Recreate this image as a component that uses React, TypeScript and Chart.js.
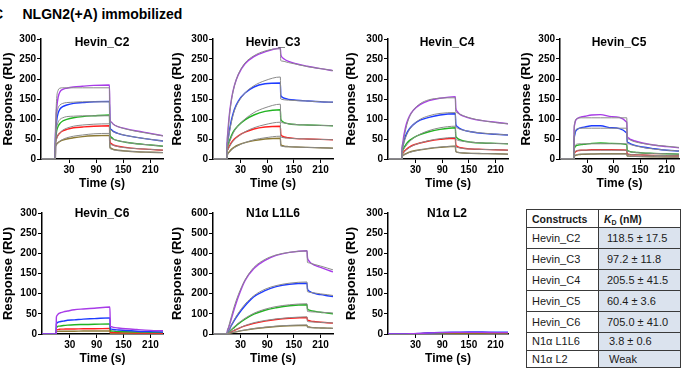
import React, { useEffect, useRef } from 'react';
import { Chart, registerables } from 'chart.js';

Chart.register(...registerables);

const FONT = "'Liberation Sans', Arial, Helvetica, sans-serif";

// ---------- tick labels ----------
const xTickValues = [30, 90, 150, 210];
const xMin = -32;
const xMax = 238;

// ---------- time grids (s) ----------
const t120 = [-32, -0.3, 0, 1, 3, 6, 10, 16, 25, 40, 60, 85, 119.5, 120.5, 123, 128, 138, 155, 180, 210, 238];
const t180 = [-32, -0.3, 0, 3, 6, 10, 16, 25, 40, 60, 85, 110, 140, 179.5, 180.5, 183, 188, 198, 210, 225, 238];
const tL2 = [-32, 0, 20, 40, 60, 90, 120, 150, 180, 210, 238];

// ---------- Hevin_C2 ----------
const c2Purple = [0, 0, 60, 95, 130, 155, 168, 174, 177, 180, 182, 184, 185, 100, 93, 87, 81, 76, 70, 64, 58];
const c2Blue = [0, 0, 50, 72, 98, 115, 125, 131, 135, 139, 141, 143, 144, 80, 74, 69, 64, 59, 54, 49, 45];
const c2Green = [0, 0, 45, 58, 72, 82, 89, 95, 99, 103, 106, 108, 110, 60, 55, 50, 46, 42, 38, 35, 32];
const c2Red = [0, 0, 38, 46, 54, 60, 65, 70, 74, 78, 80, 82, 83, 44, 39, 35, 32, 29, 26, 24, 22];
const c2Olive = [0, 0, 30, 34, 38, 41, 44, 47, 50, 53, 56, 58, 59, 30, 27, 24, 22, 20, 18, 17, 16];
const c2FitPurple = [0, 0, 60, 110, 155, 172, 177, 178, 178, 178, 178, 178, 178, 96, 92, 87, 81, 75, 69, 63, 58];
const c2FitBlue = [0, 0, 50, 80, 112, 128, 135, 139, 141, 142, 143, 143, 143, 76, 72, 68, 64, 59, 54, 49, 45];
const c2FitGreen = [0, 0, 45, 62, 80, 92, 99, 103, 106, 107, 108, 108, 108, 55, 52, 49, 46, 42, 38, 35, 32];
const c2FitRed = [0, 0, 38, 44, 52, 60, 66, 72, 77, 82, 85, 87, 88, 38, 36, 34, 31, 28, 26, 24, 22];
const c2FitOlive = [0, 0, 30, 33, 37, 41, 45, 49, 53, 57, 60, 63, 64, 27, 25, 23, 21, 20, 18, 17, 16];

// ---------- Hevin_C3 ----------
const c3Purple = [0, 0, 40, 62, 90, 122, 153, 183, 211, 238, 256, 268, 277, 262, 255, 250, 244, 238, 232, 226, 221];
const c3Blue = [0, 0, 35, 43, 58, 78, 100, 124, 145, 165, 180, 188, 190, 160, 155, 152, 149, 147, 145, 143, 142];
const c3Green = [0, 0, 28, 32, 39, 49, 60, 72, 84, 98, 110, 119, 123, 100, 95, 91, 88, 86, 85, 84, 83];
const c3Red = [0, 0, 20, 23, 29, 35, 42, 50, 58, 67, 75, 80, 82, 62, 58, 55, 53, 51, 50, 49, 48];
const c3Olive = [0, 0, 10, 12, 16, 20, 25, 30, 35, 41, 46, 50, 52, 37, 34, 32, 31, 30, 29, 28, 27];
const c3FitPurple = [0, 0, 40, 58, 85, 118, 150, 182, 212, 240, 258, 270, 276, 246, 245, 244, 241, 237, 231, 226, 221];
const c3FitBlue = [0, 0, 35, 41, 54, 73, 95, 120, 142, 165, 183, 196, 205, 150, 149, 148, 147, 146, 145, 143, 142];
const c3FitGreen = [0, 0, 28, 30, 36, 45, 56, 70, 84, 100, 116, 128, 137, 92, 91, 90, 88, 86, 85, 84, 83];
const c3FitRed = [0, 0, 20, 22, 26, 32, 40, 48, 57, 68, 78, 86, 92, 55, 54, 53, 52, 51, 50, 49, 48];
const c3FitOlive = [0, 0, 10, 11, 14, 18, 23, 28, 34, 41, 48, 53, 57, 32, 31.5, 31, 30.5, 30, 29, 28, 27];

// ---------- Hevin_C4 ----------
const c4Purple = [0, 0, 30, 38, 54, 72, 90, 107, 122, 136, 146, 152, 156, 128, 120, 113, 107, 101, 96, 92, 88];
const c4Blue = [0, 0, 25, 31, 41, 53, 64, 75, 86, 97, 104, 110, 113, 88, 82, 77, 72, 68, 64, 62, 60];
const c4Green = [0, 0, 18, 21, 26, 32, 39, 46, 53, 61, 68, 74, 78, 58, 53, 49, 45, 42, 40, 39, 38];
const c4Red = [0, 0, 12, 14, 17, 21, 25, 30, 35, 40, 45, 49, 52, 36, 32, 29, 27, 25, 24, 23, 22];
const c4Olive = [0, 0, 7, 8, 10, 12, 14, 17, 20, 23, 26, 29, 32, 20, 17, 16, 15, 14, 13.5, 13, 12];
const c4FitPurple = [0, 0, 30, 35, 47, 64, 84, 104, 122, 138, 148, 152, 153, 118, 116, 113, 108, 102, 96, 91, 88];
const c4FitBlue = [0, 0, 25, 28, 36, 48, 60, 73, 86, 99, 108, 114, 116, 80, 78, 75, 72, 68, 65, 62, 60];
const c4FitGreen = [0, 0, 18, 20, 24, 29, 35, 43, 52, 62, 71, 78, 82, 50, 48, 46, 44, 42, 40, 39, 38];
const c4FitRed = [0, 0, 12, 13, 16, 19, 23, 28, 34, 40, 46, 51, 54, 30, 29, 28, 26, 25, 24, 23, 22];
const c4FitOlive = [0, 0, 7, 8, 9, 11, 13, 16, 19, 23, 27, 30, 32, 18, 17, 16, 15, 14, 13.5, 13, 12];

// ---------- Hevin_C5 ----------
const c5Purple = [0, 0, 70, 85, 95, 100, 103, 105, 107, 110, 111, 106, 92, 57, 53, 49, 45, 40, 35, 31, 28];
const c5Blue = [0, 0, 45, 58, 68, 73, 76, 78, 80, 83, 83, 78, 65, 44, 41, 38, 34, 30, 26, 22, 20];
const c5Green = [0, 0, 22, 28, 32, 34, 35, 36, 37, 39, 40, 39, 36, 22, 20, 18, 17, 15, 14, 13, 12];
const c5Red = [0, 0, 12, 15, 18, 20, 21, 22, 22, 23, 23, 23, 22, 13, 12, 11, 10.5, 10, 9, 8.5, 8];
const c5Olive = [0, 0, 5, 7, 9, 10, 11, 11.5, 12, 12.5, 13, 13, 13, 8, 7.5, 7, 6.5, 6, 5.5, 5, 5];
const c5FitPurple = [0, 0, 70, 88, 97, 101, 102, 103, 103, 103, 103, 103, 103, 52, 50, 47, 43, 39, 35, 32, 29];
const c5FitBlue = [0, 0, 45, 62, 71, 75, 76, 77, 77, 77, 77, 77, 77, 40, 38, 36, 33, 29, 25, 22, 20];
const c5FitGreen = [0, 0, 22, 30, 35, 37, 38, 38, 38, 38, 38, 38, 38, 20, 19, 18, 16.5, 15, 14, 13, 12];
const c5FitRed = [0, 0, 12, 16, 19, 21, 22, 22, 22, 22, 22, 22, 22, 12, 11.5, 11, 10.5, 10, 9, 8.5, 8];
const c5FitOlive = [0, 0, 5, 8, 10, 11, 12, 12.5, 12.5, 12.5, 12.5, 12.5, 12.5, 7, 7, 6.8, 6.5, 6, 5.5, 5, 5];

// ---------- Hevin_C6 ----------
const c6Purple = [0, 0, 40, 45, 48, 51, 53, 55, 57, 60, 62, 64, 67, 20, 18, 16.5, 15, 13, 11, 9, 8];
const c6Blue = [0, 0, 24, 27, 29, 30, 31, 32, 34, 35, 37, 38, 40, 13, 12, 11, 10, 8.5, 7, 6, 5];
const c6Green = [0, 0, 15, 17, 19, 19.5, 20, 21, 22, 23, 23.5, 24, 25, 8, 7.5, 7, 6, 5.5, 5, 4.5, 4];
const c6Red = [0, 0, 9, 10, 11, 11.5, 12, 12, 12.5, 12.5, 13, 13, 13.5, 4, 3.8, 3.5, 3, 2.8, 2.5, 2.2, 2];
const c6Olive = [0, 0, 5, 6, 6.5, 7, 7, 7, 7, 7, 7.5, 7.5, 7.5, 2, 1.9, 1.8, 1.6, 1.4, 1.2, 1.1, 1];

// ---------- N1α L1L6 ----------
const l16Purple = [0, 0, 10, 30, 50, 80, 125, 185, 265, 325, 365, 390, 405, 413, 380, 365, 352, 340, 330, 318, 308];
const l16Blue = [0, 0, 5, 15, 28, 45, 68, 98, 140, 185, 215, 235, 247, 252, 225, 215, 208, 200, 195, 190, 186];
const l16Green = [0, 0, 3, 8, 14, 22, 33, 50, 73, 98, 118, 130, 140, 145, 125, 120, 116, 112, 108, 104, 100];
const l16Red = [0, 0, 2, 5, 8, 12, 18, 27, 40, 53, 64, 72, 78, 82, 70, 67, 64, 61, 58, 56, 54];
const l16Olive = [0, 0, 1, 3, 4, 6, 9, 13, 19, 26, 32, 37, 41, 43, 37, 35, 33, 31, 30, 29, 28];
const l16FitPurple = [0, 0, 10, 35, 60, 92, 138, 195, 268, 330, 370, 392, 405, 412, 355, 353, 350, 344, 337, 327, 318];
const l16FitBlue = [0, 0, 5, 16, 30, 48, 72, 104, 148, 190, 222, 240, 252, 258, 210, 208, 206, 203, 199, 195, 191];
const l16FitGreen = [0, 0, 3, 9, 16, 25, 37, 54, 78, 103, 123, 136, 145, 150, 112, 111, 110, 109, 108, 106, 104];
const l16FitRed = [0, 0, 2, 5, 9, 13, 19, 28, 42, 56, 67, 75, 81, 85, 62, 61, 60, 59, 58, 56, 55];
const l16FitOlive = [0, 0, 1, 3, 4, 6, 9, 14, 20, 27, 34, 39, 43, 45, 32, 31.5, 31, 30.5, 30, 29, 28];

// ---------- N1α L2 ----------
const l2Purple = [0, 0, 0.5, 1.5, 2.5, 3.5, 4, 4, 4, 3.5, 3.5];
const l2Blue = [0, 0, 0.5, 1.5, 3, 4, 4.5, 5, 5, 4.5, 4.5];
const l2Green = [0, 0, 0.3, 1, 2, 2.5, 3, 3, 3, 3, 3];
const l2Red = [0, 0, 0.3, 0.8, 1.5, 2, 2, 2, 2, 2, 2];
const l2Olive = [0, 0, 0.2, 0.5, 1, 1.5, 1.5, 1.5, 1.5, 1.5, 1.5];

// ---------- table ----------
const tableConstructs = ['Hevin_C2', 'Hevin_C3', 'Hevin_C4', 'Hevin_C5', 'Hevin_C6', 'N1α L1L6', 'N1α L2'];
const tableKd = ['118.5 ± 17.5', '97.2 ± 11.8', '205.5 ± 41.5', '60.4 ± 3.6', '705.0 ± 41.0', '3.8 ± 0.6', 'Weak'];

// ---------- styles ----------
const SERIES_COLORS = ['#a83ce8', '#1e3cff', '#22b322', '#ff2020', '#8c7a34'];
const FIT_COLOR = '#8a8a8a';

interface PanelSpec {
  title: string;
  times: number[];
  curves: number[][];
  fits: number[][];
  yMax: number;
  yStep: number;
  left: number;
  top: number;
  width: number;
  height: number;
  yW: number;
  titleX: number;
  titleY: number;
}

const ROW1_TOP = 29;
const ROW2_TOP = 203;

const panels: PanelSpec[] = [
  { title: 'Hevin_C2', times: t120, curves: [c2Purple, c2Blue, c2Green, c2Red, c2Olive], fits: [c2FitPurple, c2FitBlue, c2FitGreen, c2FitRed, c2FitOlive], yMax: 300, yStep: 50, left: 1, top: ROW1_TOP, width: 166, height: 162, yW: 40, titleX: 102, titleY: 42 },
  { title: 'Hevin_C3', times: t120, curves: [c3Purple, c3Blue, c3Green, c3Red, c3Olive], fits: [c3FitPurple, c3FitBlue, c3FitGreen, c3FitRed, c3FitOlive], yMax: 300, yStep: 50, left: 170, top: ROW1_TOP, width: 167, height: 162, yW: 43, titleX: 273, titleY: 42 },
  { title: 'Hevin_C4', times: t120, curves: [c4Purple, c4Blue, c4Green, c4Red, c4Olive], fits: [c4FitPurple, c4FitBlue, c4FitGreen, c4FitRed, c4FitOlive], yMax: 300, yStep: 50, left: 344, top: ROW1_TOP, width: 168, height: 162, yW: 44, titleX: 447, titleY: 42 },
  { title: 'Hevin_C5', times: t120, curves: [c5Purple, c5Blue, c5Green, c5Red, c5Olive], fits: [c5FitPurple, c5FitBlue, c5FitGreen, c5FitRed, c5FitOlive], yMax: 300, yStep: 50, left: 519, top: ROW1_TOP, width: 164, height: 162, yW: 41, titleX: 619, titleY: 42 },
  { title: 'Hevin_C6', times: t120, curves: [c6Purple, c6Blue, c6Green, c6Red, c6Olive], fits: [], yMax: 300, yStep: 50, left: 1, top: ROW2_TOP, width: 166, height: 163, yW: 41, titleX: 102, titleY: 213 },
  { title: 'N1α L1L6', times: t180, curves: [l16Purple, l16Blue, l16Green, l16Red, l16Olive], fits: [l16FitPurple, l16FitBlue, l16FitGreen, l16FitRed, l16FitOlive], yMax: 600, yStep: 100, left: 170, top: ROW2_TOP, width: 167, height: 163, yW: 43, titleX: 273, titleY: 213 },
  { title: 'N1α L2', times: tL2, curves: [l2Purple, l2Blue, l2Green, l2Red, l2Olive], fits: [], yMax: 300, yStep: 50, left: 344, top: ROW2_TOP, width: 168, height: 163, yW: 44, titleX: 447, titleY: 213 },
];

function series(times: number[], values: number[]) {
  return times.map((t, i) => ({ x: t, y: values[i] }));
}

function Panel({ spec }: { spec: PanelSpec }) {
  const ref = useRef<HTMLCanvasElement>(null);
  useEffect(() => {
    const canvas = ref.current;
    if (!canvas) return;
    const datasets: any[] = [
      ...spec.fits.map((v) => ({
        data: series(spec.times, v),
        borderColor: FIT_COLOR,
        borderWidth: 1,
        showLine: true,
        pointRadius: 0,
        cubicInterpolationMode: 'monotone',
      })),
      ...spec.curves.map((v, i) => ({
        data: series(spec.times, v),
        borderColor: SERIES_COLORS[i],
        borderWidth: 1.4,
        showLine: true,
        pointRadius: 0,
        cubicInterpolationMode: 'monotone',
      })),
    ];
    const tickFont = { family: FONT, size: 10, weight: 'bold' as const };
    const chart = new Chart(canvas, {
      type: 'scatter',
      data: { datasets },
      options: {
        animation: false,
        responsive: false,
        maintainAspectRatio: false,
        events: [],
        layout: { padding: { left: 0, top: 10, right: 4, bottom: 0 } },
        plugins: { legend: { display: false }, tooltip: { enabled: false }, title: { display: false } },
        elements: { point: { radius: 0 } },
        scales: {
          x: {
            type: 'linear',
            min: xMin,
            max: xMax,
            afterBuildTicks: (s: any) => {
              s.ticks = xTickValues.map((v) => ({ value: v }));
            },
            afterFit: (s: any) => {
              s.height = 32;
            },
            grid: { display: true, drawOnChartArea: false, drawTicks: true, tickLength: 4, color: '#000', lineWidth: 1 },
            border: { display: true, color: '#000', width: 1.5 },
            ticks: { color: '#000', font: tickFont, padding: 1, maxRotation: 0, autoSkip: false },
            title: { display: true, text: 'Time (s)', color: '#000', font: { family: FONT, size: 12, weight: 'bold' }, padding: { top: 0, bottom: 0 } },
          },
          y: {
            type: 'linear',
            min: 0,
            max: spec.yMax,
            afterFit: (s: any) => {
              s.width = spec.yW;
            },
            grid: { display: true, drawOnChartArea: false, drawTicks: true, tickLength: 4, color: '#000', lineWidth: 1 },
            border: { display: true, color: '#000', width: 1.5 },
            ticks: { color: '#000', font: tickFont, padding: 1, stepSize: spec.yStep },
            title: { display: true, text: 'Response (RU)', color: '#000', font: { family: FONT, size: 13, weight: 'bold' }, padding: { top: 0, bottom: 0 } },
          },
        },
      } as any,
    });
    return () => chart.destroy();
  }, [spec]);
  return (
    <canvas
      ref={ref}
      width={spec.width}
      height={spec.height}
      style={{ position: 'absolute', left: spec.left, top: spec.top, width: spec.width, height: spec.height }}
    />
  );
}

const rowHeights = [18, 21, 21, 21, 21, 21, 17.5, 17.5];

export default function App() {
  useEffect(() => {
    document.body.style.margin = '0';
  }, []);
  const cellBorder = '1px solid #3a3a3a';
  return (
    <div style={{ position: 'absolute', left: 0, top: 0, width: 689, height: 372, overflow: 'hidden', background: '#fff', fontFamily: FONT }}>
      <div style={{ position: 'absolute', left: -7, top: 6, fontSize: 14, lineHeight: '16px', fontWeight: 'bold', color: '#000' }}>C</div>
      <div style={{ position: 'absolute', left: 22.5, top: 6, fontSize: 14, lineHeight: '16px', fontWeight: 'bold', color: '#000', whiteSpace: 'nowrap' }}>
        NLGN2(+A) immobilized
      </div>
      {panels.map((p) => (
        <Panel key={p.title} spec={p} />
      ))}
      {panels.map((p) => (
        <div
          key={'t' + p.title}
          style={{
            position: 'absolute',
            left: p.titleX,
            top: p.titleY - 7,
            transform: 'translateX(-50%)',
            fontSize: 12,
            lineHeight: '14px',
            fontWeight: 'bold',
            color: '#000',
            whiteSpace: 'nowrap',
            zIndex: 2,
          }}
        >
          {p.title}
        </div>
      ))}
      <table
        style={{
          position: 'absolute',
          left: 526,
          top: 209,
          width: 154,
          borderCollapse: 'collapse',
          border: cellBorder,
          fontSize: 11,
          color: '#1a1a1a',
          tableLayout: 'fixed',
        }}
      >
        <colgroup>
          <col style={{ width: 72 }} />
          <col style={{ width: 82 }} />
        </colgroup>
        <tbody>
          <tr style={{ height: rowHeights[0] }}>
            <td style={{ border: cellBorder, padding: '0 0 0 5px', fontWeight: 'bold', fontSize: 10.5, background: '#fff' }}>Constructs</td>
            <td style={{ border: cellBorder, padding: '0 0 0 5px', fontWeight: 'bold', fontSize: 10.5, background: '#fff', whiteSpace: 'nowrap' }}>
              <i>K</i>
              <sub style={{ fontSize: 7, verticalAlign: '-2px', lineHeight: 0 }}>D</sub> (nM)
            </td>
          </tr>
          {tableConstructs.map((name, i) => (
            <tr key={name} style={{ height: rowHeights[i + 1] }}>
              <td style={{ border: cellBorder, padding: '0 0 0 5px', whiteSpace: 'nowrap', background: '#fff' }}>{name}</td>
              <td style={{ border: cellBorder, padding: i >= 5 ? '0 0 0 10px' : '0 0 0 8px', whiteSpace: 'nowrap', background: '#dbe3ee' }}>
                {tableKd[i]}
              </td>
            </tr>
          ))}
        </tbody>
      </table>
    </div>
  );
}
